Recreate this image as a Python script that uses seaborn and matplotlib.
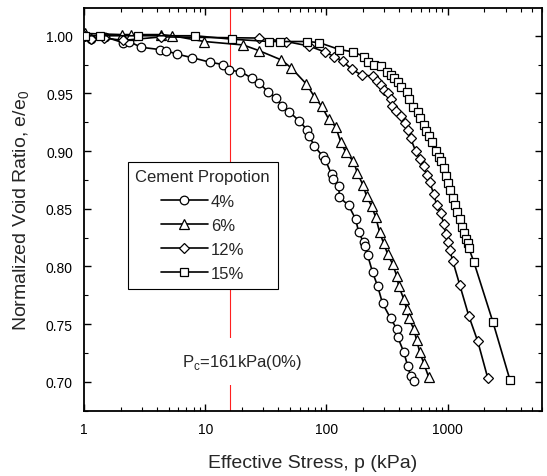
import numpy as np
import pandas as pd
import matplotlib
matplotlib.use("Agg")
import matplotlib.pyplot as plt
import seaborn as sns
from matplotlib.ticker import LogLocator, FixedLocator, MultipleLocator, NullFormatter, FuncFormatter

# ---------------- data ----------------
p_4 = [1.02, 1.14, 1.49, 2.10, 2.35, 2.96, 4.25, 4.76, 5.87, 7.81, 11.0, 14.1, 15.8, 19.5,
       24.4, 27.9, 33.2, 38.6, 43.3, 49.4, 59.8, 69.7, 72.4, 79.6, 92.7, 98.1, 110, 114,
       126, 128, 152, 174, 184, 202, 206, 218, 240, 264, 290, 338, 379, 386, 433, 467, 494, 524]
e_4 = [1.000, 0.997, 0.999, 0.994, 0.995, 0.990, 0.988, 0.987, 0.984, 0.981, 0.977, 0.975,
       0.970, 0.969, 0.963, 0.959, 0.951, 0.946, 0.939, 0.934, 0.926, 0.918, 0.913, 0.904,
       0.896, 0.892, 0.880, 0.876, 0.870, 0.860, 0.853, 0.841, 0.830, 0.821, 0.818, 0.810,
       0.795, 0.783, 0.768, 0.755, 0.746, 0.739, 0.726, 0.714, 0.705, 0.701]

p_6 = [1.02, 2.06, 2.45, 4.33, 5.34, 9.81, 20.6, 27.9, 42.5, 51.4, 68.4, 79.6, 91.0, 104,
       119, 131, 144, 167, 180, 199, 214, 236, 254, 274, 296, 319, 351, 379, 394, 433, 458,
       476, 524, 554, 587, 634, 697]
e_6 = [1.002, 1.001, 1.001, 1.001, 1.000, 0.995, 0.992, 0.987, 0.979, 0.972, 0.958, 0.947,
       0.939, 0.928, 0.921, 0.908, 0.899, 0.891, 0.881, 0.871, 0.861, 0.852, 0.843, 0.830,
       0.820, 0.811, 0.802, 0.792, 0.783, 0.772, 0.763, 0.755, 0.746, 0.736, 0.726, 0.716,
       0.704]

p_12 = [1.02, 1.14, 1.46, 2.10, 4.33, 27.9, 46.7, 72.4, 96.3, 116, 136, 161, 195, 240, 259,
        279, 296, 319, 338, 345, 372, 409, 441, 467, 494, 544, 587, 634, 670, 710, 766, 811,
        875, 927, 962, 1000, 1040, 1099, 1256, 1493, 1770, 2142]
e_12 = [1.000, 0.997, 0.998, 0.996, 0.999, 0.998, 0.995, 0.991, 0.986, 0.982, 0.978, 0.971,
        0.966, 0.965, 0.961, 0.957, 0.953, 0.950, 0.945, 0.939, 0.935, 0.930, 0.924, 0.918,
        0.911, 0.900, 0.893, 0.887, 0.879, 0.873, 0.863, 0.853, 0.846, 0.837, 0.828, 0.821,
        0.814, 0.805, 0.784, 0.757, 0.735, 0.703]

p_15 = [1.02, 1.36, 2.79, 8.27, 16.7, 33.8, 41.7, 69.7, 87.5, 128, 167, 202, 222, 245, 279,
        313, 338, 358, 386, 409, 458, 476, 514, 565, 587, 634, 658, 697, 738, 796, 843, 875,
        927, 962, 1000, 1040, 1099, 1143, 1186, 1256, 1306, 1356, 1409, 1463, 1493, 1641,
        2356, 3252]
e_15 = [1.000, 1.000, 1.000, 1.000, 0.997, 0.995, 0.995, 0.995, 0.994, 0.988, 0.986, 0.982,
        0.977, 0.975, 0.974, 0.969, 0.966, 0.963, 0.960, 0.956, 0.951, 0.945, 0.938, 0.934,
        0.929, 0.923, 0.917, 0.913, 0.908, 0.900, 0.895, 0.891, 0.885, 0.878, 0.872, 0.866,
        0.859, 0.853, 0.847, 0.841, 0.834, 0.829, 0.824, 0.820, 0.816, 0.804, 0.752, 0.702]

labels = ["4%", "6%", "12%", "15%"]
markers = ["o", "^", "D", "s"]
pc_value = 16.1
pc_text = r"P$_\mathregular{c}$=161kPa(0%)"

frames = []
for lab, p, e in zip(labels, [p_4, p_6, p_12, p_15], [e_4, e_6, e_12, e_15]):
    frames.append(pd.DataFrame({"p": p, "e": e, "Cement": lab}))
df = pd.concat(frames, ignore_index=True)

# ---------------- style ----------------
sns.set_style("ticks")
plt.rcParams["font.family"] = ["Liberation Sans", "DejaVu Sans"]
plt.rcParams["mathtext.fontset"] = "custom"
plt.rcParams["mathtext.rm"] = "Liberation Sans"

fig = plt.figure(figsize=(5.47, 4.77), dpi=100)
ax = fig.add_axes([0.1536, 0.137, 0.8374, 0.844])

ax.axvline(pc_value, color="#ff2020", lw=0.8, zorder=1)

msize = {"o": 6.2, "^": 6.6, "D": 5.6, "s": 5.8}
for lab, mk in zip(labels, markers):
    sub = df[df["Cement"] == lab]
    sns.lineplot(data=sub, x="p", y="e", ax=ax, sort=False, estimator=None,
                 color="black", lw=1.2, marker=mk, markersize=msize[mk],
                 markerfacecolor="white", markeredgecolor="black", markeredgewidth=0.9,
                 label=lab, zorder=3)

ax.set_xscale("log")
ax.set_xlim(1, 6000)
ax.set_ylim(0.675, 1.024)

ax.xaxis.set_major_locator(FixedLocator([1, 10, 100, 1000]))
ax.xaxis.set_major_formatter(FuncFormatter(lambda v, pos: f"{int(round(v))}"))
ax.xaxis.set_minor_locator(LogLocator(base=10, subs=np.arange(2, 10)))
ax.xaxis.set_minor_formatter(NullFormatter())
ax.yaxis.set_major_locator(MultipleLocator(0.05))
ax.yaxis.set_minor_locator(MultipleLocator(0.025))
ax.yaxis.set_major_formatter(FuncFormatter(lambda v, pos: f"{v:.2f}"))

ax.tick_params(which="both", direction="in", top=True, right=True, color="black",
               labelsize=10, labelcolor="black")
ax.tick_params(which="major", length=5, width=1.0, pad=8)
ax.tick_params(which="minor", length=3, width=0.8)
for s in ax.spines.values():
    s.set_color("black")
    s.set_linewidth(1.3)

ax.set_xlabel("Effective Stress, p (kPa)", fontsize=14, labelpad=13)
ax.set_ylabel("Normalized Void Ratio, e/e$_\\mathregular{0}$", fontsize=14, labelpad=10)

ax.text(20.2, 0.7175, pc_text, fontsize=12, ha="center", va="center", zorder=2,
        bbox=dict(facecolor="white", edgecolor="none", pad=10))

leg = ax.legend(title="Cement Propotion", loc="upper left", bbox_to_anchor=(0.096, 0.618),
                frameon=True, fancybox=False, edgecolor="black", framealpha=1,
                fontsize=12, title_fontsize=12, handlelength=2.8, handletextpad=0.2,
                labelspacing=0.55, borderpad=0.45, borderaxespad=0, alignment="center")
leg.get_frame().set_linewidth(0.8)
leg.set_zorder(5)

fig.savefig("out.png", dpi=100)
